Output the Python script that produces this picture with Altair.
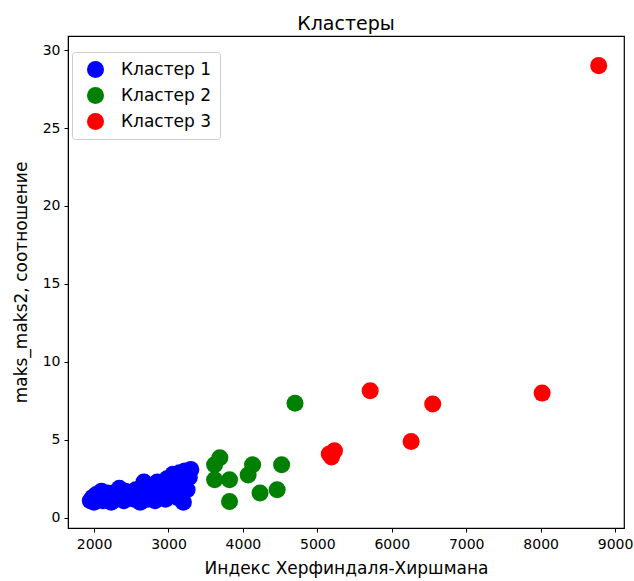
import altair as alt
import pandas as pd

# Cluster 1: low concentration firms
c1_x = [1950, 1980, 2000, 2030, 2060, 2100, 2120, 2150, 2200, 2230, 2260, 2300, 2340, 2360,
        2400, 2420, 2460, 2500, 2540, 2580, 2620, 2640, 2670, 2700, 2720, 2760, 2790, 2820,
        2850, 2880, 2900, 2930, 2960, 2980, 3000, 3020, 3060, 3080, 3100, 3120, 3150, 3180,
        3200, 3220, 3250, 3280, 3300, 2560, 2440, 2180]
c1_y = [1.1, 1.3, 1.0, 1.5, 1.2, 1.7, 1.1, 1.4, 1.3, 1.0, 1.6, 1.2, 1.9, 1.4,
        1.1, 1.7, 1.3, 1.5, 1.2, 1.4, 1.0, 1.9, 2.3, 1.5, 1.2, 2.0, 1.7, 1.1,
        2.3, 1.4, 2.0, 1.7, 1.2, 2.5, 2.1, 1.5, 2.8, 1.8, 2.4, 1.3, 2.9, 2.2,
        1.0, 3.0, 1.8, 2.6, 3.1, 1.8, 1.5, 1.6]

# Cluster 2
c2_x = [3690, 3620, 3620, 3820, 3820, 4130, 4070, 4520, 4230, 4460, 4700]
c2_y = [3.85, 3.4, 2.45, 2.45, 1.05, 3.4, 2.75, 3.4, 1.6, 1.8, 7.35]

# Cluster 3
c3_x = [8780, 8020, 6550, 5710, 6260, 5160, 5230, 5190]
c3_y = [29.0, 8.0, 7.3, 8.15, 4.9, 4.1, 4.3, 3.9]

labels = ["Кластер 1", "Кластер 2", "Кластер 3"]
colors = ["#0000ff", "#008000", "#ff0000"]

frames = []
for lab, xs, ys in zip(labels, [c1_x, c2_x, c3_x], [c1_y, c2_y, c3_y]):
    frames.append(pd.DataFrame({"hhi": xs, "ratio": ys, "cluster": lab}))
df = pd.concat(frames, ignore_index=True)

FONT = "DejaVu Sans"

axis_style = dict(grid=False, tickColor="black", domainColor="black", tickSize=4,
                  labelFontSize=14, titleFontSize=17, labelColor="black",
                  titleColor="black", titleFontWeight="normal",
                  labelFont=FONT, titleFont=FONT, format="d")

chart = alt.Chart(df).mark_circle(size=290, opacity=1).encode(
    x=alt.X("hhi:Q",
            title="Индекс Херфиндаля-Хиршмана",
            scale=alt.Scale(domain=[1650, 9120], nice=False, zero=False),
            axis=alt.Axis(values=[2000, 3000, 4000, 5000, 6000, 7000, 8000, 9000],
                          labelPadding=5, titlePadding=9, **axis_style)),
    y=alt.Y("ratio:Q",
            title="maks_maks2, соотношение",
            scale=alt.Scale(domain=[-0.65, 30.9], nice=False, zero=False),
            axis=alt.Axis(values=[0, 5, 10, 15, 20, 25, 30],
                          labelPadding=4, titlePadding=12, **axis_style)),
    color=alt.Color("cluster:N",
                    scale=alt.Scale(domain=labels, range=colors),
                    legend=alt.Legend(title=None, orient="none", legendX=4, legendY=16,
                                      symbolType="circle", symbolSize=290,
                                      labelFontSize=17, labelFont=FONT, labelColor="black",
                                      strokeColor="#cccccc", cornerRadius=3,
                                      padding=8, rowPadding=7, labelOffset=16,
                                      symbolOffset=6, fillColor="white")),
).properties(
    width=556,
    height=492,
    title=alt.TitleParams("Кластеры", fontSize=19, font=FONT, fontWeight="normal",
                          color="black", offset=2),
    autosize=alt.AutoSizeParams(type="none"),
    padding={"left": 68, "top": 36, "right": 10, "bottom": 53},
).configure_view(stroke="black", strokeWidth=1.2)

chart.save("out.html", embed_options={"renderer": "svg", "actions": False})
